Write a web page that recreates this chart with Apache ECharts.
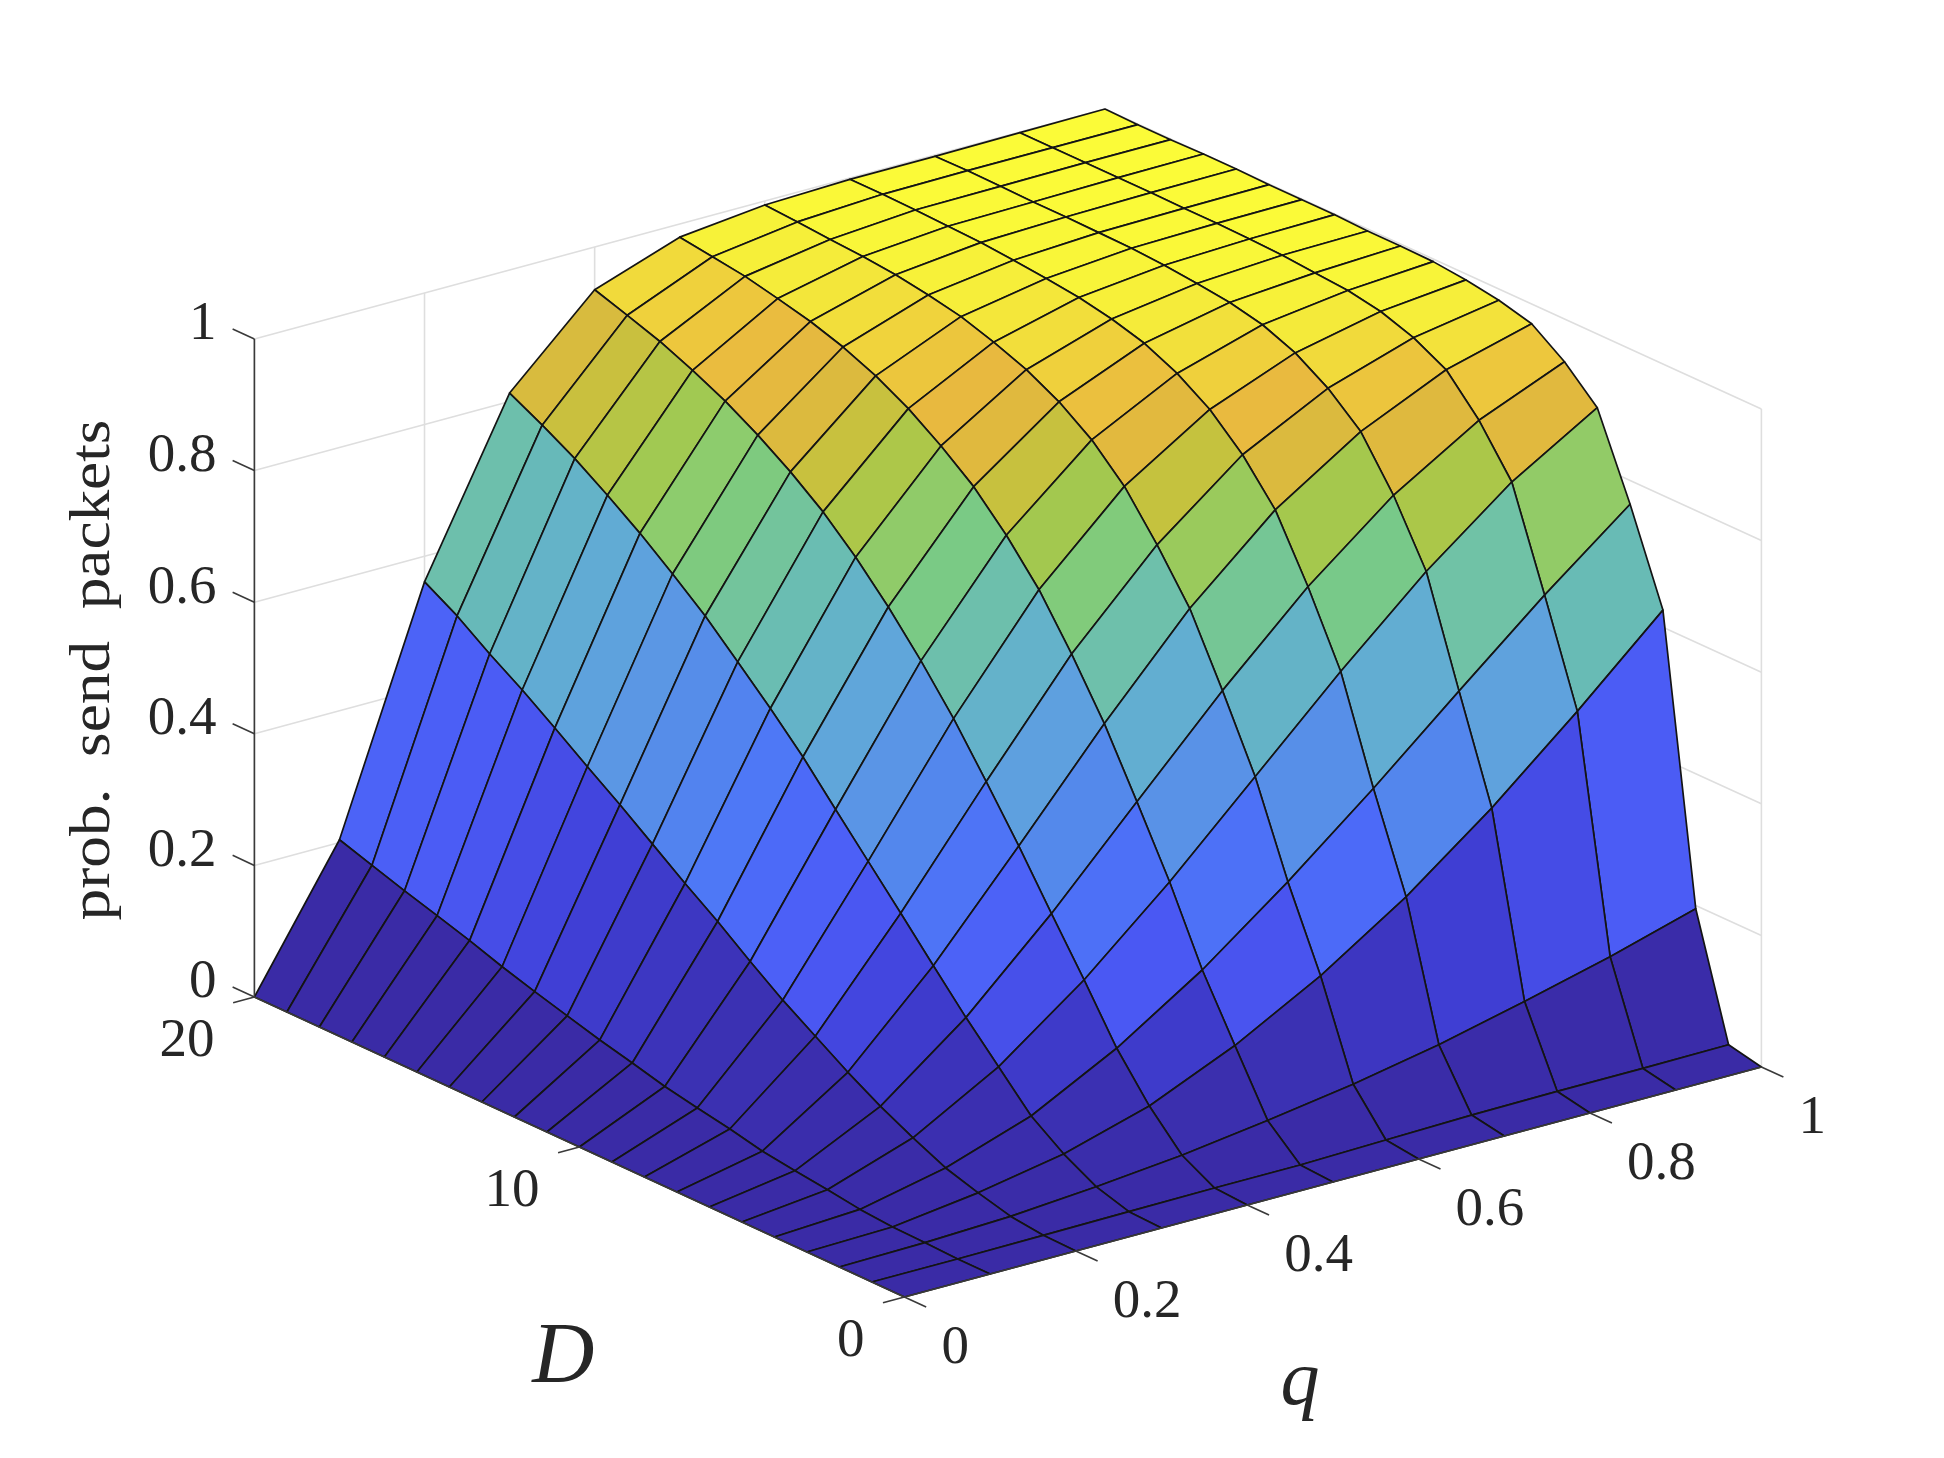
<!DOCTYPE html>
<html><head><meta charset="utf-8">
<style>html,body{margin:0;padding:0;background:#fff}#c{width:1944px;height:1458px}</style>
<script src="https://cdn.jsdelivr.net/npm/echarts@6/dist/echarts.min.js"></script>
</head><body><div id="c"></div>
<script>
// Grid values
const qValues = [0,0.1,0.2,0.3,0.4,0.5,0.6,0.7,0.8,0.9,1];
const dValues = [0,1,2,3,4,5,6,7,8,9,10,11,12,13,14,15,16,17,18,19,20];
// prob. send packets at each q, listed for D = 0..20
const probQ00 = [0,0,0,0,0,0,0,0,0,0,0,0,0,0,0,0,0,0,0,0,0];
const probQ01 = [0,0,.002,.003,.007,.014,.020,.027,.038,.047,.057,.070,.082,.096,.110,.125,.142,.157,.172,.188,.204];
const probQ02 = [0,.001,.007,.020,.035,.058,.083,.112,.144,.176,.212,.250,.285,.322,.359,.394,.430,.465,.497,.532,.561];
const probQ03 = [0,.002,.017,.044,.079,.131,.183,.239,.296,.352,.408,.465,.516,.564,.611,.652,.691,.726,.759,.787,.813];
const probQ04 = [0,.003,.030,.082,.147,.228,.306,.386,.461,.534,.599,.658,.711,.757,.795,.828,.857,.881,.902,.919,.935];
const probQ05 = [0,.003,.048,.139,.231,.342,.441,.537,.620,.695,.755,.806,.845,.879,.906,.927,.943,.955,.966,.973,.980];
const probQ06 = [0,.006,.068,.210,.330,.467,.575,.677,.751,.817,.865,.900,.926,.945,.961,.971,.979,.984,.987,.991,.994];
const probQ07 = [0,.009,.093,.295,.437,.592,.698,.792,.853,.899,.931,.954,.968,.978,.984,.989,.993,.995,.997,.998,.998];
const probQ08 = [0,.010,.124,.395,.550,.709,.802,.876,.919,.950,.970,.981,.987,.992,.995,.996,.997,.997,.998,.999,.998];
const probQ09 = [0,.010,.157,.507,.661,.810,.881,.935,.961,.978,.987,.991,.995,.997,.998,.998,.999,.999,.999,.999,.999];
const probQ10 = [0,.011,.195,.626,.764,.888,.935,.970,.983,.991,.996,.997,.997,.999,.999,.999,1,1,.999,.999,1];
const probRows = [probQ00,probQ01,probQ02,probQ03,probQ04,probQ05,probQ06,probQ07,probQ08,probQ09,probQ10];
// Tick labels
const zTicks = [0,0.2,0.4,0.6,0.8,1];
const qTicks = [0,0.2,0.4,0.6,0.8,1];
const dTicks = [0,10,20];
const zLabels = ['0','0.2','0.4','0.6','0.8','1'];
const qLabels = ['0','0.2','0.4','0.6','0.8','1'];
const dLabels = ['0','10','20'];
const zTitle = 'prob.\u00a0 send\u00a0 packets', qTitle = 'q', dTitle = 'D';

// Face colour ramp, evenly spaced over z = 0..1
const ramp = ['#3a2ba6','#3b31b4','#4040d8','#4b5af5','#4c66f8','#4e78f6','#5388ec','#5a94e6','#5fa4dc','#63b0cf','#67bab8','#70c2a6','#7aca84','#8ccc6e','#a6c84c','#c4c23e','#dfb93e','#e9b93f','#efd03c','#f4ea3a','#fbfb38'];

// Orthographic view: page position of the origin and the image of each unit axis
const view = {ox:904.4, oy:1297, qx:857, qxPerD:-0.32, qy:-230, dx:-32.5, dy:-15, zy:-658};
function project(q,D,z){ return [view.ox+q*(view.qx+D*view.qxPerD)+D*view.dx, view.oy+q*view.qy+D*view.dy+z*view.zy]; }

const font = '"Liberation Serif","Times New Roman",serif';
const ink = '#262626';

// faces, far corner first so that near faces paint over them
const faces = [];
for (let i=qValues.length-2;i>=0;i--) for (let j=dValues.length-2;j>=0;j--) faces.push([i,j]);

function faceItem(params,api){
  const i=api.value(0), j=api.value(1);
  const corners=[[i,j],[i+1,j],[i+1,j+1],[i,j+1]].map(([a,b])=>api.coord(project(qValues[a],dValues[b],probRows[a][b])));
  return {type:'polygon',shape:{points:corners},style:{fill:echarts.color.lerp(Math.min(1,probRows[i][j]),ramp),stroke:'#141414',lineWidth:1.7,lineJoin:'round'}};
}

// segments in data space [q0,D0,z0,q1,D1,z1]
const wallLines=[], axisLines=[], tickLines=[];
zTicks.forEach(z=>{ wallLines.push([0,20,z,1,20,z]); wallLines.push([1,20,z,1,0,z]); });
qTicks.forEach(q=>{ wallLines.push([q,20,0,q,20,1]); });
dTicks.forEach(D=>{ wallLines.push([1,D,0,1,D,1]); });
axisLines.push([0,20,0,0,20,1],[0,0,0,1,0,0],[0,0,0,0,20,0]);
zTicks.forEach(z=>tickLines.push([0,20,z,0,20.67,z]));
qTicks.forEach(q=>tickLines.push([q,0,0,q,-0.67,0]));
dTicks.forEach(D=>tickLines.push([0,D,0,-0.025,D,0]));

function segItem(color,width){
  return function(params,api){
    const a=api.coord(project(api.value(0),api.value(1),api.value(2)));
    const b=api.coord(project(api.value(3),api.value(4),api.value(5)));
    return {type:'line',shape:{x1:a[0],y1:a[1],x2:b[0],y2:b[1]},style:{stroke:color,lineWidth:width}};
  };
}

// labels: [q,D,z,dxPx,dyPx,text,align,fontSize,style,rotate,stretch]
const labels=[];
zTicks.forEach((z,k)=>labels.push([0,20,z,-38,-14,zLabels[k],'right',55,'normal',0,1]));
qTicks.forEach((q,k)=>labels.push([q,0,0,37,52,qLabels[k],'left',55,'normal',0,1]));
dTicks.forEach((D,k)=>labels.push([0,D,0,-40,45,dLabels[k],'right',55,'normal',0,1]));
labels.push([0.5,0,0,-33,201,qTitle,'center',78,'italic',0,1]);
labels.push([0,10,0,-16,212,dTitle,'center',86,'italic',0,1]);
labels.push([0,20,0.5,-160,2,zTitle,'center',56,'normal',1,1.13]);

function labelItem(params,api){
  const d=labels[api.value(0)];
  const p=api.coord(project(d[0],d[1],d[2]));
  return {type:'text',x:p[0]+d[3],y:p[1]+d[4],rotation:d[9]?Math.PI/2:0,scaleX:d[10],
    style:{text:d[5],fill:ink,font:d[8]+' '+d[7]+'px '+font,align:d[6],verticalAlign:'middle'}};
}

const chart=echarts.init(document.getElementById('c'),null,{renderer:'canvas'});
chart.setOption({
  animation:false,backgroundColor:'#fff',
  grid:{left:0,right:0,top:0,bottom:0},
  xAxis:{type:'value',min:0,max:1944,show:false},
  yAxis:{type:'value',min:0,max:1458,inverse:true,show:false},
  tooltip:{show:false},
  series:[
    {type:'custom',coordinateSystem:'cartesian2d',clip:false,silent:true,z:1,renderItem:segItem('#dedede',1.6),data:wallLines},
    {type:'custom',coordinateSystem:'cartesian2d',clip:false,silent:true,z:2,renderItem:faceItem,data:faces},
    {type:'custom',coordinateSystem:'cartesian2d',clip:false,silent:true,z:3,renderItem:segItem('#3a3a3a',1.6),data:axisLines.concat(tickLines)},
    {type:'custom',coordinateSystem:'cartesian2d',clip:false,silent:true,z:4,renderItem:labelItem,data:labels.map((_,k)=>[k])}
  ]
});
</script></body></html>
